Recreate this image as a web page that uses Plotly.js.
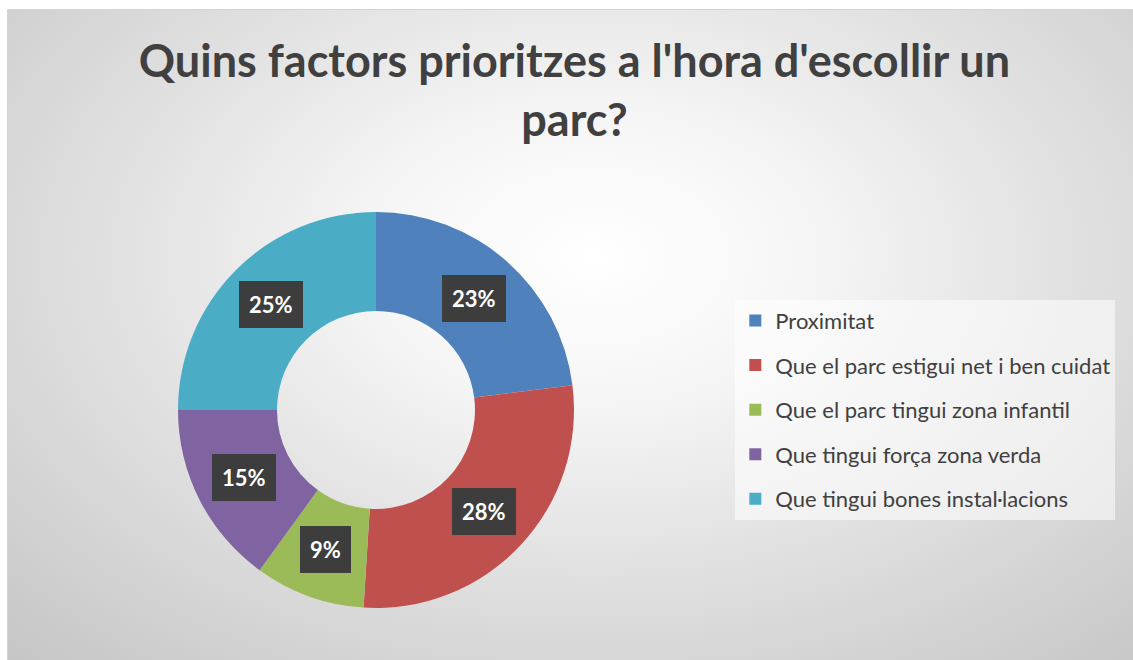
<!DOCTYPE html>
<html>
<head>
<meta charset="utf-8">
<script src="https://cdn.plot.ly/plotly-3.0.1.min.js"></script>
<style>
  html, body { margin: 0; padding: 0; background: #ffffff; }
  #bg {
    position: absolute; left: 7px; top: 9px; width: 1126px; height: 651px;
    background: radial-gradient(ellipse 75% 85% at 52% 38%, #ffffff 0%, #f6f6f6 25%, #e2e2e2 55%, #c6c6c6 100%);
    border-left: 1px solid #d4d4d4; border-top: 1px solid #d4d4d4;
    box-sizing: border-box;
  }
  #chart { position: absolute; left: 0; top: 0; width: 1133px; height: 660px; }
</style>
</head>
<body>
<div id="bg"></div>
<div id="chart"></div>
<script>
const categories = [
  "Proximitat",
  "Que el parc estigui net i ben cuidat",
  "Que el parc tingui zona infantil",
  "Que tingui força zona verda",
  "Que tingui bones instal·lacions"
];
const values = [23, 28, 9, 15, 25];
const colors = ["#4F81BD", "#C0504D", "#9BBB59", "#8064A2", "#4BACC6"];

const W = 1133, H = 660;
const dom = { x: [0.1571, 0.5066], y: [0.0788, 0.6788] };

const pie = {
  type: "pie",
  labels: categories,
  values: values,
  hole: 0.5,
  sort: false,
  direction: "clockwise",
  rotation: 0,
  marker: { colors: colors, line: { width: 0 } },
  textinfo: "none",
  hoverinfo: "label+percent",
  showlegend: false,
  domain: dom
};

// legend entries built from the categories
const legendTraces = categories.map((c, i) => ({
  type: "scatter", mode: "markers", x: [null], y: [null], name: c,
  legendgroup: "g" + i,
  marker: { symbol: "square", size: 12, color: colors[i] },
  hoverinfo: "skip", showlegend: true
}));

// percent labels placed at mid-ring of each slice
const total = values.reduce((a, b) => a + b, 0);
const cx = (dom.x[0] + dom.x[1]) / 2, cy = (dom.y[0] + dom.y[1]) / 2;
const Rpx = (dom.y[1] - dom.y[0]) * H / 2;
const midR = Rpx * 0.75;
let cum = 0;
const annotations = values.map((v) => {
  const mid = (cum + v / 2) / total; cum += v;
  const th = 2 * Math.PI * mid;
  return {
    xref: "paper", yref: "paper",
    x: cx + midR * Math.sin(th) / W,
    y: cy + midR * Math.cos(th) / H,
    xanchor: "center", yanchor: "middle",
    text: "<b>" + Math.round(v / total * 100) + "%</b>",
    showarrow: false,
    font: { family: "Lato, 'Open Sans', sans-serif", size: 22, color: "#ffffff" },
    bgcolor: "#3d3d3d",
    borderpad: 10,
    borderwidth: 0
  };
});

const layout = {
  width: W, height: H,
  margin: { l: 0, r: 0, t: 0, b: 0 },
  paper_bgcolor: "rgba(0,0,0,0)",
  plot_bgcolor: "rgba(0,0,0,0)",
  title: {
    text: "<b>Quins factors prioritzes a l'hora d'escollir un<br>parc?</b>",
    font: { family: "Lato, 'Open Sans', sans-serif", size: 45, color: "#404040" },
    x: 0.507, xanchor: "center", y: 0.883, yanchor: "top", yref: "container"
  },
  xaxis: { visible: false, domain: [0.9, 0.91] },
  yaxis: { visible: false, domain: [0.9, 0.91] },
  showlegend: true,
  legend: {
    x: 0.649, xanchor: "left", y: 0.546, yanchor: "top",
    bgcolor: "rgba(255,255,255,0.55)",
    borderwidth: 0,
    font: { family: "Lato, 'Open Sans', sans-serif", size: 22, color: "#404040" },
    tracegroupgap: 13,
    itemclick: false, itemdoubleclick: false
  },
  annotations: annotations
};

Plotly.newPlot("chart", [pie].concat(legendTraces), layout, { displayModeBar: false, staticPlot: true });
</script>
</body>
</html>
